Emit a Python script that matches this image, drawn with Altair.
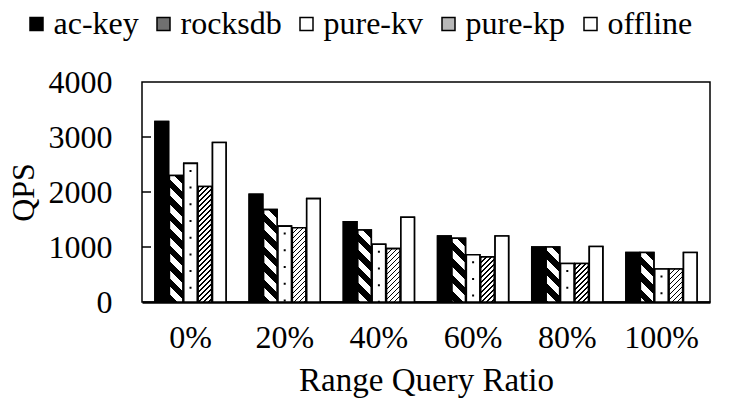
import altair as alt

# ---- data ----
categories = ["0%", "20%", "40%", "60%", "80%", "100%"]
series = ["ac-key", "rocksdb", "pure-kv", "pure-kp", "offline"]
ac_key = [3280, 1960, 1460, 1200, 1000, 900]
rocksdb = [2300, 1680, 1310, 1160, 1000, 900]
pure_kv = [2520, 1380, 1050, 860, 700, 600]
pure_kp = [2100, 1350, 970, 820, 700, 600]
offline = [2900, 1880, 1540, 1200, 1010, 900]
y_tick_values = [0, 1000, 2000, 3000, 4000]
inner_ticks = [1000, 2000, 3000]

values_by_series = {
    "ac-key": ac_key,
    "rocksdb": rocksdb,
    "pure-kv": pure_kv,
    "pure-kp": pure_kp,
    "offline": offline,
}

# ---- layout / style constants ----
W, H = 568, 220
YMAX = 4000
PAD_IN, PAD_OUT = 0.246, 0.138
OFF_PAD = 0.06
FONT = "Liberation Serif"
LEG_FONT = 32
SYM = 13  # legend square side

step = W / (len(categories) - PAD_IN + 2 * PAD_OUT)
band = step * (1 - PAD_IN)
bar_w = band / (len(series) - OFF_PAD) * (1 - OFF_PAD)


def stripes(value, period, black, direction):
    """Hard-stop linear gradient giving diagonal hatching inside a bar."""
    w = bar_w
    h = value / YMAX * H
    total = w + h
    stops = []
    k = 0
    while k * period < total:
        a = k * period / total
        b = min((k * period + black) / total, 1.0)
        c = min((k + 1) * period / total, 1.0)
        stops += [
            {"offset": round(a, 5), "color": "black"},
            {"offset": round(b, 5), "color": "black"},
            {"offset": round(b, 5), "color": "white"},
            {"offset": round(c, 5), "color": "white"},
        ]
        k += 1
    sc = total / (w * w + h * h)
    if direction == "back":
        x1, y1, x2, y2 = 1.0, 0.0, 1.0 - sc * w, sc * h
    else:
        x1, y1, x2, y2 = 0.0, 0.0, sc * w, sc * h
    return {"gradient": "linear", "x1": round(x1, 6), "y1": round(y1, 6),
            "x2": round(x2, 6), "y2": round(y2, 6), "stops": stops}


def fill_for(s, v):
    if s == "ac-key":
        return "black"
    if s == "rocksdb":
        return stripes(v, 16.5, 8.5, "back")
    if s == "pure-kp":
        return stripes(v, 5.0, 1.7, "fwd")
    return "white"


records = []
for i, c in enumerate(categories):
    for s in series:
        v = values_by_series[s][i]
        records.append({"cat": c, "series": s, "qps": v, "grad": fill_for(s, v)})

data = alt.Data(values=records)

x_enc = alt.X(
    "cat:N",
    sort=categories,
    scale=alt.Scale(domain=categories, paddingInner=PAD_IN, paddingOuter=PAD_OUT),
    axis=alt.Axis(title="Range Query Ratio", labelAngle=0, ticks=False,
                  domainColor="black", domainWidth=2.5, labelPadding=20,
                  titlePadding=11, labelFontSize=32, titleFontSize=33),
)
xo_enc = alt.XOffset(
    "series:N",
    sort=series,
    scale=alt.Scale(domain=series, paddingInner=OFF_PAD, paddingOuter=0),
)
y_enc = alt.Y(
    "qps:Q",
    stack=None,
    scale=alt.Scale(domain=[0, YMAX], nice=False),
    axis=alt.Axis(values=y_tick_values, format="d", title="QPS", ticks=False,
                  domain=False, grid=False, labelPadding=30, titlePadding=8,
                  labelFontSize=32, titleFontSize=32),
)

base = alt.Chart(data)

# Vega reserves a symbol column as wide as the label font size;
# push the square to the right end of that column, next to its label.
sym_shift = LEG_FONT / 2 - SYM / 2 - 1
lead = LEG_FONT - SYM - 1

legend_layer = base.mark_bar(stroke="black", strokeWidth=1.6).encode(
    x=x_enc,
    xOffset=xo_enc,
    y=y_enc,
    color=alt.Color(
        "series:N",
        sort=series,
        scale=alt.Scale(domain=series,
                        range=["black", "#707070", "white", "#b8b8b8", "white"]),
        legend=alt.Legend(
            title=None, orient="none", legendX=30 - lead - 142, legendY=-74,
            direction="horizontal", columns=5, symbolType="square",
            symbolSize=SYM * SYM, symbolStrokeColor="black", symbolStrokeWidth=1.5,
            symbolOffset=sym_shift, labelOffset=1,
            labelFont=FONT, labelFontSize=LEG_FONT, labelColor="black",
            columnPadding=0, labelLimit=0, padding=0,
        ),
    ),
)

pattern_layer = base.mark_bar(stroke="black", strokeWidth=1.6).encode(
    x=x_enc,
    xOffset=xo_enc,
    y=y_enc,
    fill=alt.Fill("grad:N", scale=None, legend=None),
)

# sparse dots down the middle of the pure-kv bars
dot_layer = base.transform_filter(
    alt.datum.series == "pure-kv"
).mark_rule(
    color="black", strokeWidth=2, strokeDash=[2, 14.7], strokeDashOffset=10.2,
    strokeCap="butt",
).encode(
    x=x_enc,
    xOffset=xo_enc,
    y=y_enc,
    y2=alt.datum(0),
)

tick_layer = alt.Chart(
    alt.Data(values=[{"qps": t} for t in inner_ticks])
).mark_rule(color="black", strokeWidth=1.5).encode(
    y=y_enc,
    x=alt.value(0),
    x2=alt.value(9),
)

chart = (
    alt.layer(legend_layer, pattern_layer, dot_layer, tick_layer)
    .properties(
        width=W,
        height=H,
        autosize=alt.AutoSizeParams(type="none"),
        padding={"left": 142, "top": 82, "right": 34, "bottom": 106},
        background="white",
    )
    .configure_view(stroke="black", strokeWidth=1.5)
    .configure_axis(
        labelFont=FONT, titleFont=FONT,
        labelColor="black", titleColor="black", titleFontWeight="normal",
    )
)

chart.save("out.html", embed_options={"renderer": "svg", "actions": False})
